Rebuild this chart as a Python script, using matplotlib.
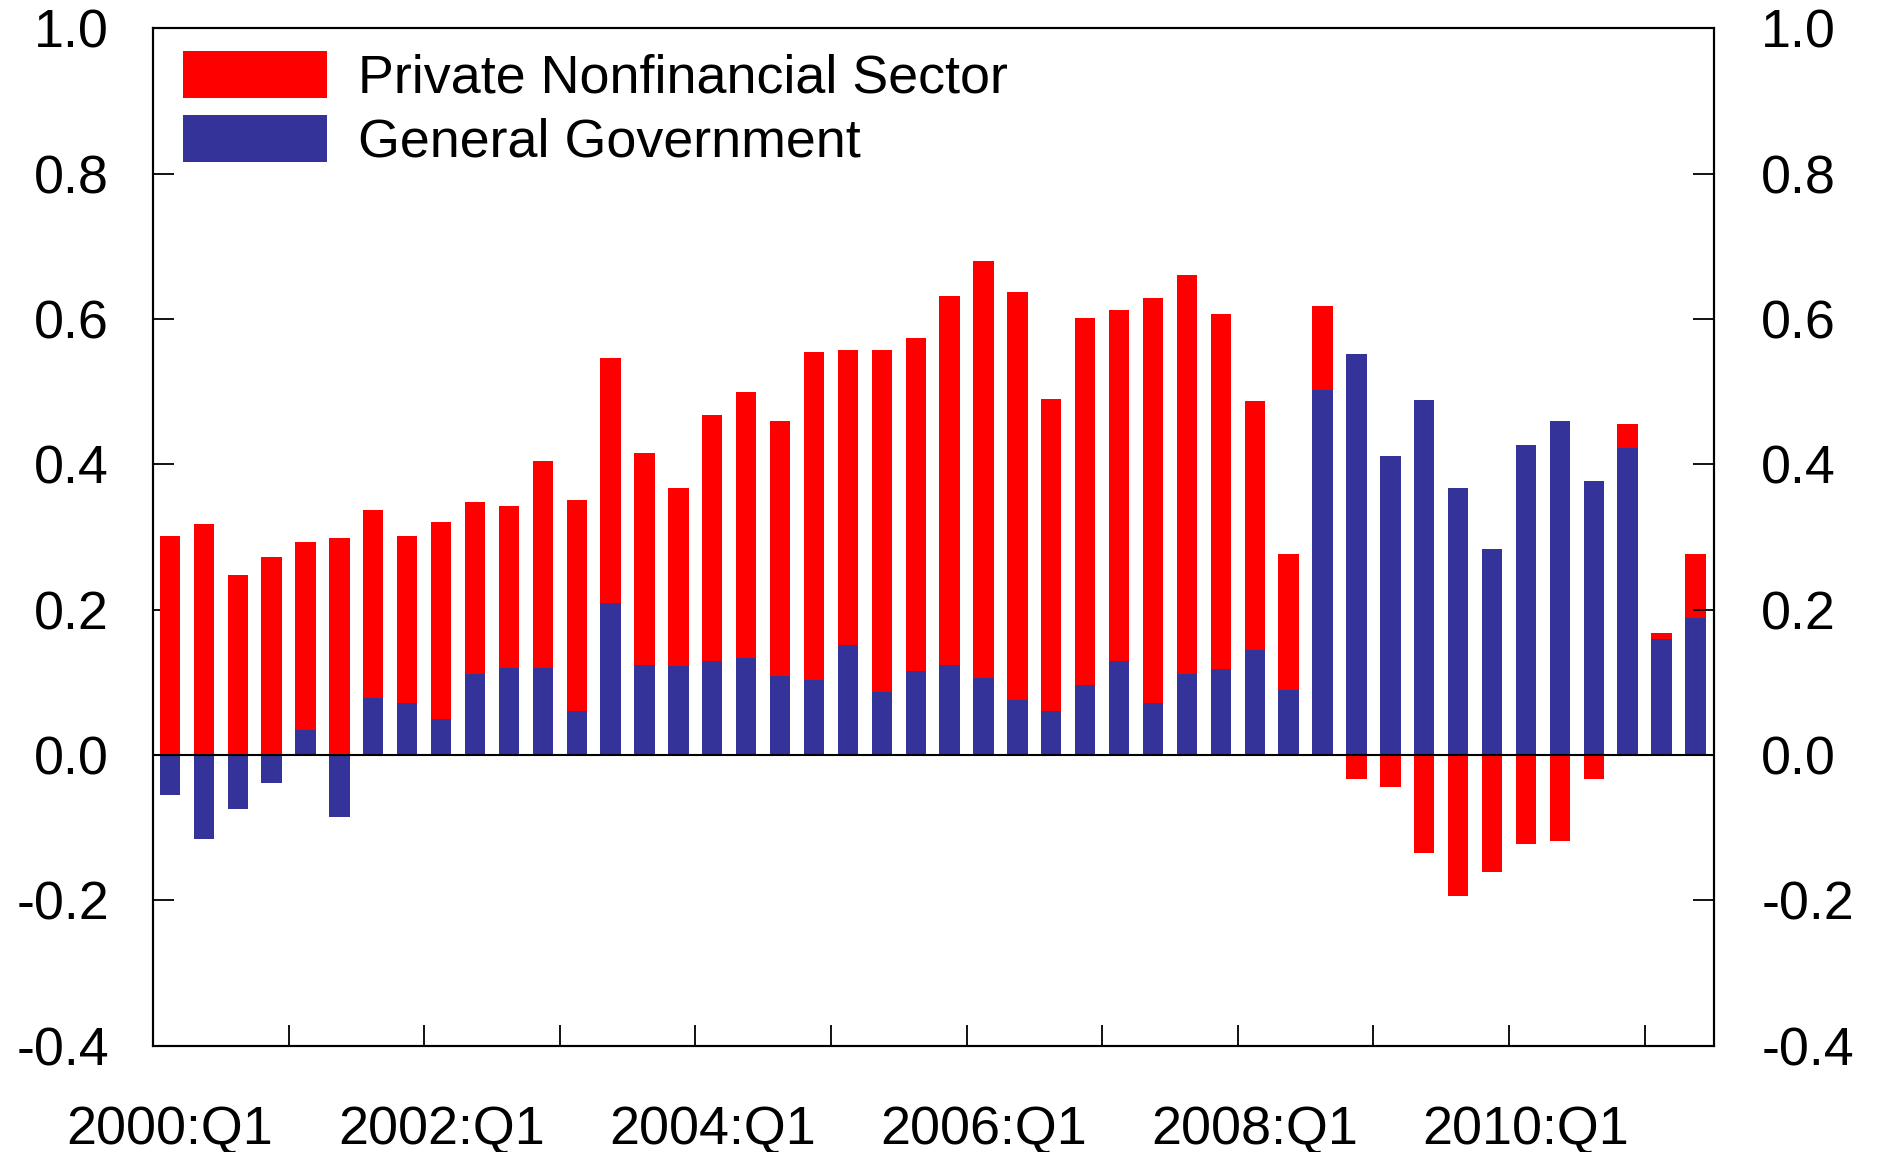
import numpy as np
import matplotlib
matplotlib.use('Agg')
import matplotlib.pyplot as plt
from matplotlib.ticker import FixedLocator

plt.rcParams['font.family'] = ['Liberation Sans', 'DejaVu Sans']

# quarterly contributions, 2000:Q1 .. 2011:Q2
quarters = [f'{y}:Q{q}' for y in range(2000, 2012) for q in range(1, 5)][:46]

private = [0.301, 0.318, 0.248, 0.273, 0.258, 0.299, 0.258, 0.230, 0.272, 0.236,
           0.223, 0.285, 0.291, 0.338, 0.292, 0.245, 0.339, 0.366, 0.351, 0.452,
           0.406, 0.471, 0.459, 0.508, 0.574, 0.561, 0.430, 0.505, 0.484, 0.558,
           0.549, 0.489, 0.343, 0.187, 0.115, -0.033, -0.044, -0.135, -0.194, -0.161,
           -0.123, -0.118, -0.033, 0.033, 0.008, 0.088]

government = [-0.055, -0.116, -0.074, -0.038, 0.035, -0.085, 0.079, 0.071, 0.049, 0.112,
              0.120, 0.120, 0.060, 0.209, 0.124, 0.123, 0.129, 0.133, 0.109, 0.103,
              0.152, 0.087, 0.115, 0.124, 0.106, 0.076, 0.060, 0.096, 0.129, 0.071,
              0.112, 0.118, 0.144, 0.090, 0.503, 0.552, 0.411, 0.488, 0.368, 0.283,
              0.427, 0.460, 0.377, 0.422, 0.160, 0.188]

series_labels = ['Private Nonfinancial Sector', 'General Government']
yticks = [-0.4, -0.2, 0.0, 0.2, 0.4, 0.6, 0.8, 1.0]

RED = '#ff0000'
BLUE = '#333399'
FS = 38.8


def main():
    x = np.arange(len(quarters))
    priv = np.array(private)
    gov = np.array(government)
    # stack the private bar on the government bar when both have the same sign
    same_sign = np.sign(priv) == np.sign(gov)
    bottom = np.where(same_sign, gov, 0.0)

    fig = plt.figure(figsize=(18.77, 11.52), dpi=100)
    ax = fig.add_axes([0.0815, 0.0924, 0.9132 - 0.0815, 0.9753 - 0.0924])

    ax.bar(x, gov, width=0.6, color=BLUE, label=series_labels[1], zorder=2)
    ax.bar(x, priv, bottom=bottom, width=0.6, color=RED, label=series_labels[0], zorder=2)
    ax.axhline(0, color='black', lw=1.5, zorder=3)

    ax.set_xlim(-0.5, 45.55)
    ax.set_ylim(-0.4, 1.0)
    ylabels = [f'{v:.1f}' for v in yticks]

    ax.set_yticks(yticks)
    ax.set_yticklabels(ylabels)
    ax.tick_params(axis='y', direction='in', length=15, width=1.3, left=True, right=False,
                   labelsize=FS, pad=31.5)

    # right-hand axis with the same scale
    ax2 = ax.twinx()
    ax2.set_ylim(ax.get_ylim())
    ax2.set_yticks(yticks)
    ax2.set_yticklabels(ylabels)
    ax2.tick_params(axis='y', direction='in', length=15, width=1.3, labelsize=FS, pad=34)

    lab_pos = x[::8]
    ax.set_xticks(lab_pos)
    ax.set_xticklabels([quarters[i] for i in lab_pos])
    ax.xaxis.set_minor_locator(FixedLocator(np.arange(3.5, 45, 4)))
    ax.tick_params(axis='x', which='major', length=0, labelsize=FS, pad=43)
    ax.tick_params(axis='x', which='minor', direction='in', length=15, width=1.3,
                   bottom=True, top=False)

    for a in (ax, ax2):
        for s in a.spines.values():
            s.set_linewidth(1.5)

    handles, labels = ax.get_legend_handles_labels()
    ax2.legend(handles[::-1], labels[::-1], loc='upper left', bbox_to_anchor=(0.019, 0.978),
               bbox_transform=ax.transAxes, frameon=False, fontsize=FS, borderpad=0,
               borderaxespad=0, handlelength=2.67, handleheight=0.965, handletextpad=0.59,
               labelspacing=0.206)

    fig.savefig('out.png', dpi=100)
    plt.close(fig)


if __name__ == '__main__':
    main()
